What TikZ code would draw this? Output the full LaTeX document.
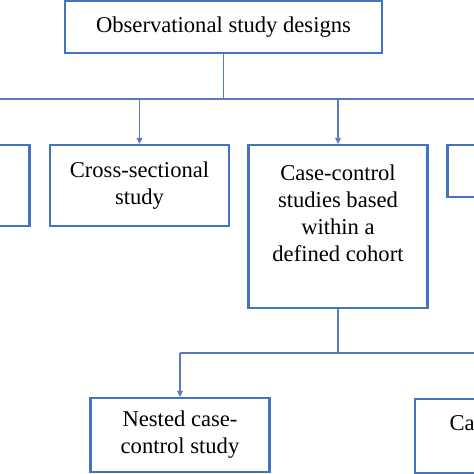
\documentclass[tikz,border=0pt]{standalone}
\usepackage{fontspec}
\setmainfont{Liberation Serif}
\usepackage{xcolor}
\usetikzlibrary{positioning,arrows.meta,calc}
\definecolor{boxblue}{HTML}{4472C4}
\definecolor{lineblue}{HTML}{5A7BBE}
\begin{document}
\begin{tikzpicture}[x=1pt,y=1pt,>={Triangle[length=6pt,width=5.5pt]},
  font=\fontsize{22.6}{27}\selectfont,
  box/.style={draw=boxblue,line width=2.2pt,align=center,inner sep=0pt,minimum width=179pt},
  conn/.style={draw=lineblue,line width=1.5pt}]
  \useasboundingbox (0,0) rectangle (474,-474);
  \clip (0,0) rectangle (474,-474);
  % first level
  \node[box,minimum width=317pt,minimum height=52pt] (obs) at (223.5,-27) {Observational study designs};
  \node[box,minimum height=81pt] (lbox) at (-60,-185.5) {};
  \node[box,minimum height=81pt] (cross) at (139.5,-185.5) {Cross-sectional\\study};
  \node[box,minimum height=163pt] (cc) at (338,-226.5) {Case-control\\studies based\\within a\\defined cohort\\\mbox{}};
  \node[box,minimum height=52pt] (rbox) at (537,-171) {};
  % second level
  \node[box,minimum height=74pt] (nested) at (180,-435) {Nested case-\\control study};
  \node[box,anchor=north west,minimum height=74pt,text width=140pt,align=left,inner xsep=34.5pt] (cohort) at (414,-398) {Ca\\\mbox{}};
  % connectors
  \coordinate (bar) at (obs.south |- 0,-99);
  \draw[conn] (obs.south) -- (bar);
  \draw[conn] (lbox.north |- bar) -- (rbox.north |- bar);
  \foreach \n in {lbox,cross,cc,rbox}{\draw[conn,->] (\n.north |- bar) -- (\n.north);}
  \coordinate (bar2) at (cc.south |- 0,-353);
  \draw[conn] (cc.south) -- (bar2);
  \draw[conn] (nested.north |- bar2) -- (cohort.north |- bar2);
  \draw[conn,->] (nested.north |- bar2) -- (nested.north);
  \draw[conn,->] (cohort.north |- bar2) -- (cohort.north);
\end{tikzpicture}
\end{document}
